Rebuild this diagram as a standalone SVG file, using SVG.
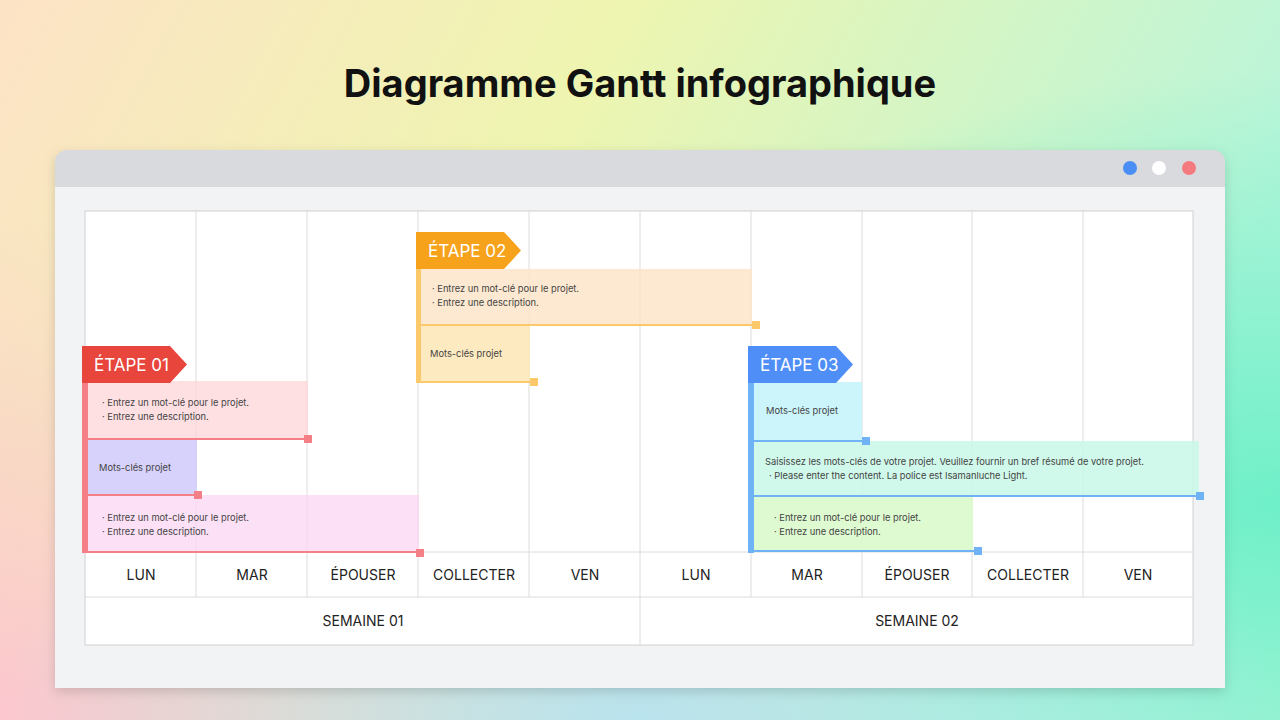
<svg xmlns="http://www.w3.org/2000/svg" width="1280" height="720" viewBox="0 0 1280 720">
<defs>
<linearGradient id="bg" x1="0" y1="0" x2="1" y2="0.3">
<stop offset="0" stop-color="#fde3c6"/><stop offset="0.45" stop-color="#eef5b0"/><stop offset="1" stop-color="#b8f5dc"/>
</linearGradient>
<radialGradient id="bl" cx="0" cy="1" r="0.7"><stop offset="0" stop-color="#fcc6cf"/><stop offset="1" stop-color="#fcc6cf" stop-opacity="0"/></radialGradient>
<radialGradient id="br" cx="1" cy="0.7" r="0.6"><stop offset="0" stop-color="#6ff0c8"/><stop offset="1" stop-color="#6ff0c8" stop-opacity="0"/></radialGradient>
<radialGradient id="bb" cx="0.5" cy="1" r="0.5"><stop offset="0" stop-color="#b9e3ee"/><stop offset="1" stop-color="#b9e3ee" stop-opacity="0"/></radialGradient>
<filter id="sh" x="-5%" y="-5%" width="110%" height="115%"><feDropShadow dx="0" dy="4" stdDeviation="6" flood-opacity="0.15"/></filter>
</defs>
<style>
text{font-family:Inter,"Noto Sans",sans-serif}
.g{stroke:#dcdcdc;stroke-width:1;fill:none}
.d{font-size:14px;fill:#222;text-anchor:middle}
.s{font-size:9.3px;fill:#444}
.f{font-size:17px;fill:#fff}
</style>
<rect width="1280" height="720" fill="url(#bg)"/>
<rect width="1280" height="720" fill="url(#bl)"/>
<rect width="1280" height="720" fill="url(#br)"/>
<rect width="1280" height="720" fill="url(#bb)"/>
<text x="640" y="97" text-anchor="middle" font-size="38" font-weight="700" fill="#111">Diagramme Gantt infographique</text>
<g id="window" filter="url(#sh)">
<path d="M55 162a12 12 0 0 1 12-12h1146a12 12 0 0 1 12 12v25H55z" fill="#d9dadd"/>
<rect x="55" y="187" width="1170" height="501" fill="#f2f3f5"/>
<circle cx="1130" cy="168" r="7" fill="#4b8ef5"/><circle cx="1159" cy="168" r="7" fill="#fff"/><circle cx="1189" cy="168" r="7" fill="#f57a80"/>
</g>
<g id="grid">
<rect x="85" y="211" width="1108" height="434" fill="#fff" stroke="#d0d0d0"/>
<path class="g" d="M196 211V597M307 211V597M418 211V597M529 211V597M640 211V645M751 211V597M862 211V597M972 211V597M1083 211V597M85 552H1193M85 597H1193"/>
<text class="d" x="141" y="580">LUN</text><text class="d" x="252" y="580">MAR</text><text class="d" x="363" y="580">ÉPOUSER</text><text class="d" x="474" y="580">COLLECTER</text><text class="d" x="585" y="580">VEN</text>
<text class="d" x="696" y="580">LUN</text><text class="d" x="807" y="580">MAR</text><text class="d" x="917" y="580">ÉPOUSER</text><text class="d" x="1028" y="580">COLLECTER</text><text class="d" x="1138" y="580">VEN</text>
<text class="d" x="363" y="626">SEMAINE 01</text><text class="d" x="917" y="626">SEMAINE 02</text>
</g>
<g id="stage1">
<rect x="88" y="381" width="220" height="58" fill="#fdd5d9" opacity="0.75"/>
<rect x="88" y="439" width="109" height="56" fill="#d3cdfb" opacity="0.9"/>
<rect x="88" y="495" width="331" height="57" fill="#fbd6f3" opacity="0.75"/>
<path d="M88 439H308M88 495H197M88 552H419" stroke="#f47f86" stroke-width="2"/>
<rect x="304" y="435" width="8" height="8" fill="#f47f86"/><rect x="194" y="491" width="8" height="8" fill="#f47f86"/><rect x="416" y="549" width="8" height="8" fill="#f47f86"/>
<rect x="82" y="380" width="6" height="173" fill="#f47f86"/>
<path d="M82 346H170L187 364.5L170 383H82z" fill="#e8453c"/>
<text class="f" x="94" y="371">ÉTAPE 01</text>
<text class="s" x="102" y="406">· Entrez un mot-clé pour le projet.</text><text class="s" x="102" y="420">· Entrez une description.</text>
<text class="s" x="99" y="471">Mots-clés projet</text>
<text class="s" x="102" y="521">· Entrez un mot-clé pour le projet.</text><text class="s" x="102" y="535">· Entrez une description.</text>
</g>
<g id="stage2">
<rect x="421" y="269" width="331" height="56" fill="#fde3c6" opacity="0.8"/>
<rect x="421" y="325" width="109" height="57" fill="#fee6b5" opacity="0.85"/>
<path d="M421 325H756M421 382H533" stroke="#fbc86a" stroke-width="2"/>
<rect x="752" y="321" width="8" height="8" fill="#fbc86a"/><rect x="530" y="378" width="8" height="8" fill="#fbc86a"/>
<rect x="416" y="266" width="5" height="117" fill="#fbc86a"/>
<path d="M416 232H504L521 250.5L504 269H416z" fill="#f7a21b"/>
<text class="f" x="428" y="257">ÉTAPE 02</text>
<text class="s" x="432" y="292">· Entrez un mot-clé pour le projet.</text><text class="s" x="432" y="306">· Entrez une description.</text>
<text class="s" x="430" y="357">Mots-clés projet</text>
</g>
<g id="stage3">
<rect x="754" y="382" width="108" height="59" fill="#c5f4fb" opacity="0.9"/>
<rect x="754" y="441" width="445" height="55" fill="#c8f8e8" opacity="0.85"/>
<rect x="754" y="496" width="219" height="55" fill="#daf9cc" opacity="0.9"/>
<path d="M754 441H866M754 496H1199M754 551H978" stroke="#6fb2f5" stroke-width="2"/>
<rect x="862" y="437" width="8" height="8" fill="#6fb2f5"/><rect x="1196" y="492" width="8" height="8" fill="#6fb2f5"/><rect x="974" y="547" width="8" height="8" fill="#6fb2f5"/>
<rect x="748" y="380" width="6" height="173" fill="#6fb2f5"/>
<path d="M748 346H836L853 364.5L836 383H748z" fill="#4f8ef7"/>
<text class="f" x="760" y="371">ÉTAPE 03</text>
<text class="s" x="766" y="414">Mots-clés projet</text>
<text class="s" x="765" y="465">Saisissez les mots-clés de votre projet. Veuillez fournir un bref résumé de votre projet.</text>
<text class="s" x="769" y="479">· Please enter the content. La police est Isamanluche Light.</text>
<text class="s" x="774" y="521">· Entrez un mot-clé pour le projet.</text><text class="s" x="774" y="535">· Entrez une description.</text>
</g>
</svg>
